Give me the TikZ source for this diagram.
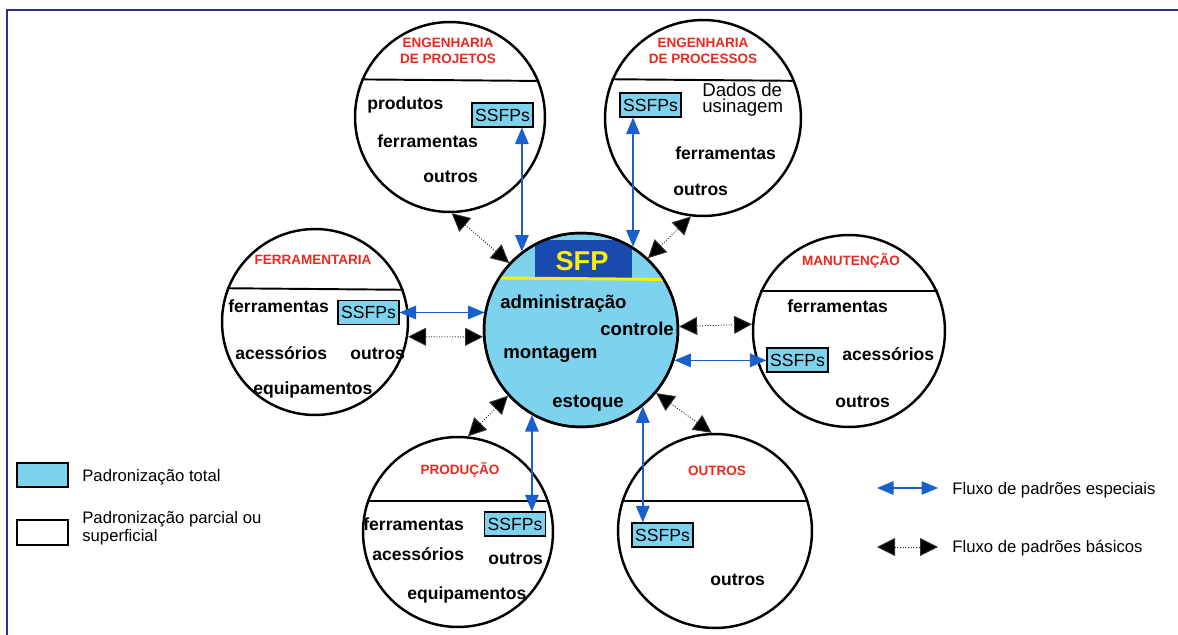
\documentclass[tikz,border=0pt]{standalone}
\usepackage{fontspec}
\setmainfont{Liberation Sans}
\usetikzlibrary{arrows.meta,calc}

\definecolor{fillcyan}{RGB}{125,210,238}
\definecolor{sfpblue}{RGB}{25,75,175}
\definecolor{sfpyellow}{RGB}{250,238,10}
\definecolor{titlered}{RGB}{235,40,30}
\definecolor{arrowblue}{RGB}{25,95,205}
\definecolor{framenavy}{RGB}{40,50,130}

\tikzset{
  dept/.style={circle, draw=black, line width=1.4pt, inner sep=0pt},
  divider/.style={draw=black, line width=1.1pt},
  item/.style={font=\fontsize{10}{12}\selectfont\bfseries, anchor=base west, inner sep=0pt},
  plainitem/.style={font=\fontsize{10.6}{12}\selectfont, anchor=base west, inner sep=0pt},
  citem/.style={font=\fontsize{10.6}{12}\selectfont\bfseries, anchor=base west, inner sep=0pt},
  deptname/.style={font=\fontsize{7.7}{9}\selectfont\bfseries, text=titlered, anchor=base, inner sep=0pt},
  ssfp/.style={draw=black, line width=0.6pt, fill=fillcyan, font=\fontsize{10}{12}\selectfont,
               minimum width=1.22cm, minimum height=0.48cm, inner sep=0pt},
  special/.style={draw=arrowblue, line width=0.8pt,
                  {Triangle[length=3.3mm,width=2.7mm,fill=arrowblue]}-{Triangle[length=3.3mm,width=2.7mm,fill=arrowblue]}},
  basic/.style={draw=black!80, line width=0.5pt, dash pattern=on 0.6pt off 0.9pt,
                {Triangle[length=3.6mm,width=3.6mm,fill=black]}-{Triangle[length=3.6mm,width=3.6mm,fill=black]}},
  legendtext/.style={font=\fontsize{9.5}{11}\selectfont, anchor=base west, inner sep=0pt},
}

\begin{document}
\begin{tikzpicture}[x=0.02cm, y=-0.02cm]
\useasboundingbox (0,0) rectangle (1178,635);

% outer frame
\draw[framenavy, line width=1.1pt] (7,640) -- (7,10) -- (1178,10);

% ---------- central SFP circle ----------
\node[dept, fill=fillcyan, minimum size=3.88cm] (c) at (581,330) {};
\begin{scope}
  \clip (c.center) circle [radius=1.92cm];
  \fill[sfpblue] (535,240) rectangle (632,279);
\end{scope}
\draw[sfpyellow, line width=1.7pt] (c.148.3) -- (c.31.7);
\node[dept, minimum size=3.88cm] at (c.center) {};
\node[font=\fontsize{15.5}{18}\selectfont\bfseries, text=sfpyellow, anchor=base, inner sep=0pt] (sfp) at (582,271) {SFP};
\node[citem] (adm) at (500,309) {administração};
\node[citem] (ctl) at (600,336) {controle};
\node[citem] (mnt) at (503,358) {montagem};
\node[citem] (est) at (552,407) {estoque};

% ---------- Engenharia de Projetos ----------
\node[dept, minimum size=3.8cm] (tl) at (450,117) {};
\draw[divider] (tl.157.7) -- (tl.22.3);
\node[deptname] (tlt1) at (448,48) {ENGENHARIA};
\node[deptname] (tlt2) at (448,64) {DE PROJETOS};
\node[item] (tl1) at (367,110) {produtos};
\node[item] (tl2) at (377,148) {ferramentas};
\node[item] (tl3) at (423,183) {outros};
\node[ssfp] (tlb) at (502.5,115) {SSFPs};

% ---------- Engenharia de Processos ----------
\node[dept, minimum size=3.92cm] (tr) at (703,118) {};
\draw[divider] (tr.157.8) -- (tr.22.2);
\node[deptname] (trt1) at (703,48) {ENGENHARIA};
\node[deptname] (trt2) at (703,64) {DE PROCESSOS};
\node[plainitem] (tr1) at (702,97) {Dados de};
\node[plainitem] (tr2) at (702,113) {usinagem};
\node[item] (tr3) at (675,160) {ferramentas};
\node[item] (tr4) at (673,195) {outros};
\node[ssfp] (trb) at (650.5,105) {SSFPs};

% ---------- Ferramentaria ----------
\node[dept, minimum size=3.72cm] (l) at (315,322) {};
\draw[divider] (l.159.9) -- (l.20.1);
\node[deptname] (lt) at (313,265) {FERRAMENTARIA};
\node[item] (l1) at (228,313) {ferramentas};
\node[item] (l2) at (235,359) {acessórios};
\node[item] (l3) at (350,359) {outros};
\node[item] (l4) at (253,395) {equipamentos};
\node[ssfp] (lb) at (368.5,312.5) {SSFPs};

% ---------- Manutencao ----------
\node[dept, minimum size=3.84cm] (r) at (849,331) {};
\draw[divider] (r.156) -- (r.24);
\node[deptname] (rt) at (851,266) {MANUTENÇÃO};
\node[item] (r1) at (787,313) {ferramentas};
\node[item] (r2) at (842,360) {acessórios};
\node[item] (r3) at (835,407) {outros};
\node[ssfp] (rb) at (797.5,360) {SSFPs};

% ---------- Producao ----------
\node[dept, minimum size=3.8cm] (bl) at (458,532) {};
\draw[divider] (bl.161) -- (bl.19);
\node[deptname] (blt) at (460,474) {PRODUÇÃO};
\node[item] (bl1) at (363,530) {ferramentas};
\node[item] (bl2) at (372,560) {acessórios};
\node[item] (bl3) at (488,564) {outros};
\node[item] (bl4) at (407,599) {equipamentos};
\node[ssfp] (blb) at (515,524) {SSFPs};

% ---------- Outros ----------
\node[dept, minimum size=3.88cm] (br) at (715,531) {};
\draw[divider] (br.162) -- (br.18);
\node[deptname] (brt) at (717,475) {OUTROS};
\node[item] (br1) at (710,585) {outros};
\node[ssfp] (brb) at (662.5,535) {SSFPs};

% ---------- special-standard flows (blue) ----------
\draw[special] (c.127.5) -- (c.127.5 |- tlb.south);
\draw[special] (c.58.3) -- (c.58.3 |- trb.south);
\draw[special] (lb.east) -- (lb.east -| c.169.9);
\draw[special] (c.-18) -- (c.-18 -| rb.west);
\draw[special] (c.240.3) -- (c.240.3 |- blb.north);
\draw[special] (c.309.7) -- (c.309.7 |- brb.north);

% ---------- basic-standard flows (black) ----------
\draw[basic] (tl.271) -- (c.137);
\draw[basic] (tr.263) -- (c.47);
\draw[basic] (l.-9.3) -- (c.184.1);
\draw[basic] (c.2.95) -- (r.176.4);
\draw[basic] (bl.84) -- (c.222);
\draw[basic] (br.92) -- (c.320);

% ---------- legend ----------
\node[draw=black, line width=0.8pt, fill=fillcyan, minimum width=1.02cm, minimum height=0.48cm, inner sep=0pt] (lgfull) at (42.5,475) {};
\node[legendtext] (lgfullt) at (82,481) {Padronização total};
\node[draw=black, line width=0.8pt, minimum width=1.02cm, minimum height=0.5cm, inner sep=0pt] (lgpart) at (42.5,532.5) {};
\node[legendtext] (lgpartt1) at (82,523) {Padronização parcial ou};
\node[legendtext] (lgpartt2) at (82,541) {superficial};

\coordinate (lgsa) at (877,488);
\coordinate (lgsb) at (938,488);
\draw[special] (lgsa) -- (lgsb);
\node[legendtext] (lgst) at (952,494) {Fluxo de padrões especiais};
\coordinate (lgba) at (877,547);
\coordinate (lgbb) at (938,547);
\draw[basic] (lgba) -- (lgbb);
\node[legendtext] (lgbt) at (952,552) {Fluxo de padrões básicos};
\end{tikzpicture}
\end{document}
